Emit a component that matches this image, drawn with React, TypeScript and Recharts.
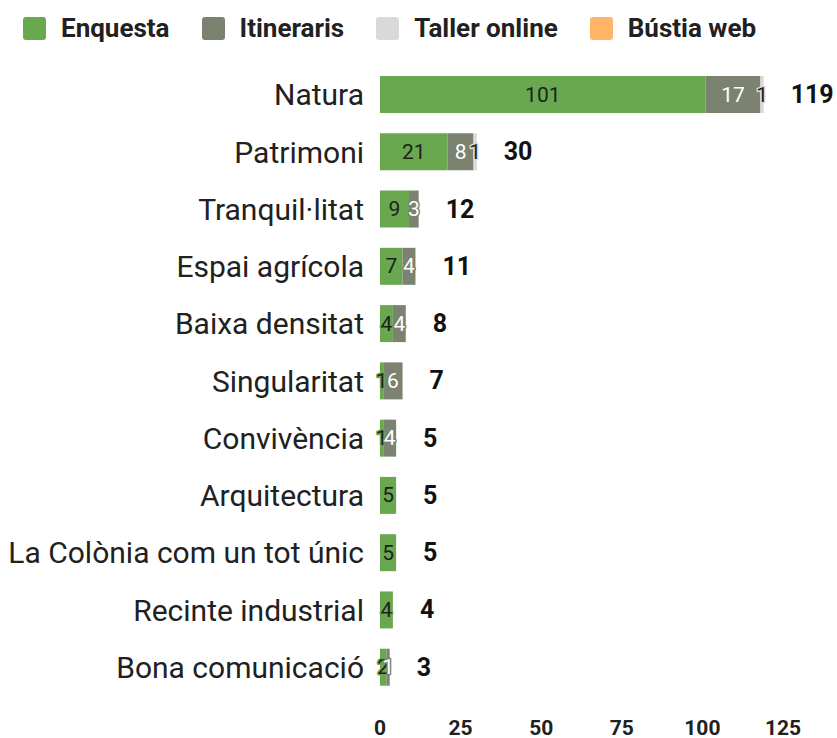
import { Bar, BarChart, LabelList, XAxis, YAxis } from "recharts"

const categories = [
  "Natura",
  "Patrimoni",
  "Tranquil·litat",
  "Espai agrícola",
  "Baixa densitat",
  "Singularitat",
  "Convivència",
  "Arquitectura",
  "La Colònia com un tot únic",
  "Recinte industrial",
  "Bona comunicació",
]
const enquesta = [101, 21, 9, 7, 4, 1, 1, 5, 5, 4, 2]
const itineraris = [17, 8, 3, 4, 4, 6, 4, 0, 0, 0, 1]
const tallerOnline = [1, 1, 0, 0, 0, 0, 0, 0, 0, 0, 0]
const bustiaWeb = [0, 0, 0, 0, 0, 0, 0, 0, 0, 0, 0]
const xTicks = [0, 25, 50, 75, 100, 125]

const series = [
  { key: "enquesta", name: "Enquesta", color: "#6aa84f", text: "#1f1f1f" },
  { key: "itineraris", name: "Itineraris", color: "#7b8370", text: "#ffffff" },
  { key: "taller", name: "Taller online", color: "#d9d9d9", text: "#1f1f1f" },
  { key: "bustia", name: "Bústia web", color: "#ffb466", text: "#1f1f1f" },
]

const data = categories.map((name, i) => ({
  name,
  enquesta: enquesta[i],
  itineraris: itineraris[i],
  taller: tallerOnline[i],
  bustia: bustiaWeb[i],
  total: enquesta[i] + itineraris[i] + tallerOnline[i] + bustiaWeb[i],
}))

const font = "Roboto, sans-serif"

const segmentLabel = (halo: string, fill: string) => (props: any) => {
  const { x, y, width, height, value } = props
  if (!value) return null
  return (
    <text
      x={x + width / 2}
      y={y + height / 2}
      textAnchor="middle"
      dominantBaseline="central"
      fontFamily={font}
      fontSize={21}
      fill={fill}
      stroke={halo}
      strokeWidth={3}
      strokeLinejoin="round"
      style={{ paintOrder: "stroke" }}
    >
      {value}
    </text>
  )
}

// total label sits after the whole stack; uses the first segment's px-per-unit
const totalLabel = (props: any) => {
  const { x, y, width, height, index } = props
  const row = data[index]
  if (!row || !row.enquesta) return null
  const perUnit = width / row.enquesta
  return (
    <text
      x={x + row.total * perUnit + 27}
      y={y + height / 2}
      textAnchor="start"
      dominantBaseline="central"
      fontFamily={font}
      fontSize={25}
      fontWeight="bold"
      fill="#111"
    >
      {row.total}
    </text>
  )
}

export default function App() {
  return (
    <div style={{ position: "relative", width: 837, height: 738, fontFamily: font }}>
      <style>{`body{margin:0}`}</style>
      <div
        style={{
          position: "absolute",
          top: 13,
          left: 23,
          display: "flex",
          alignItems: "center",
          gap: 32,
        }}
      >
        {series.map((s) => (
          <div key={s.key} style={{ display: "flex", alignItems: "center" }}>
            <span
              style={{
                display: "inline-block",
                width: 23,
                height: 23,
                borderRadius: 3,
                background: s.color,
                marginRight: 15,
              }}
            />
            <span style={{ fontSize: 26, fontWeight: "bold", color: "#212121" }}>{s.name}</span>
          </div>
        ))}
      </div>
      <BarChart
        width={837}
        height={738}
        data={data}
        layout="vertical"
        margin={{ top: 66, right: 54, left: 0, bottom: 0 }}
      >
        <XAxis
          type="number"
          domain={[0, 125]}
          ticks={xTicks}
          axisLine={false}
          tickLine={false}
          tickSize={0}
          tickMargin={24}
          height={42}
          tick={{ fontSize: 21, fontWeight: "bold", fill: "#212121", fontFamily: font }}
        />
        <YAxis
          type="category"
          dataKey="name"
          width={380}
          axisLine={false}
          tickLine={false}
          tickSize={0}
          tickMargin={16}
          interval={0}
          tick={{ fontSize: 30, fill: "#212121", fontFamily: font }}
        />
        {series.map((s, idx) => (
          <Bar
            key={s.key}
            dataKey={s.key}
            name={s.name}
            stackId="a"
            fill={s.color}
            barSize={37}
            isAnimationActive={false}
          >
            <LabelList dataKey={s.key} content={segmentLabel(s.color, s.text)} />
            {idx === 0 && <LabelList dataKey="total" content={totalLabel} />}
          </Bar>
        ))}
      </BarChart>
    </div>
  )
}
